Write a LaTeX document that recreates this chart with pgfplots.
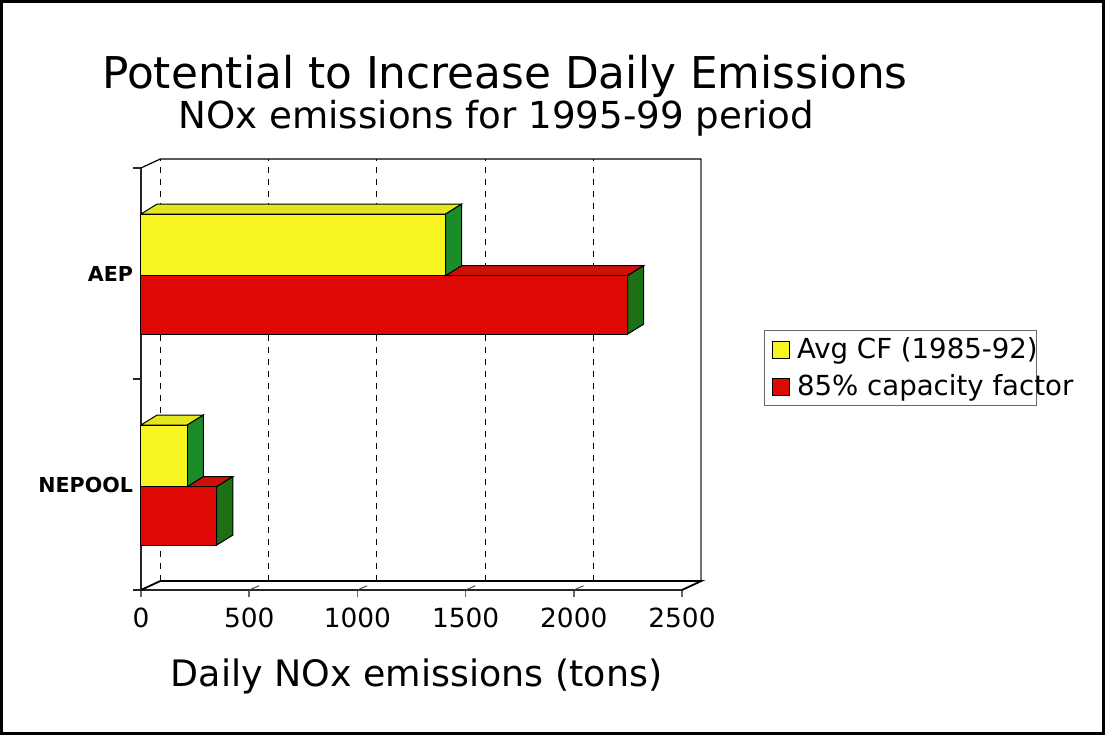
\documentclass[border=0pt]{standalone}
\usepackage{pgfplots}
\pgfplotsset{compat=1.18}
\usepackage{fontspec}
\setmainfont{DejaVu Sans}
\definecolor{yfront}{RGB}{248,244,34}
\definecolor{ytop}{RGB}{228,230,30}
\definecolor{yside}{RGB}{28,140,42}
\definecolor{rfront}{RGB}{222,8,5}
\definecolor{rtop}{RGB}{206,16,10}
\definecolor{rside}{RGB}{30,112,20}
\begin{document}
\begin{tikzpicture}
\path[use as bounding box] (-70.5pt,-72.5pt) rectangle (482pt,295pt);
\draw[line width=1.5pt] (-69.75pt,-71.75pt) rectangle (481.25pt,294.25pt);
\begin{axis}[
 at={(0pt,0pt)}, anchor=south west,
 scale only axis, width=270.5pt, height=211pt,
 xmin=0, xmax=2500, ymin=-0.5, ymax=1.5,
 clip=false,
 axis x line*=bottom, axis y line*=left,
 x axis line style={line width=1.2pt, black!85},
 y axis line style={line width=1pt, black!85},
 xtick={0,500,1000,1500,2000,2500},
 ytick={0,1}, yticklabels={NEPOOL,AEP},
 minor ytick={-0.5,0.5,1.5},
 tick align=outside,
 major tick length=3.5pt, minor tick length=4pt,
 major y tick style={draw=none},
 minor y tick style={black!85, line width=0.8pt},
 major x tick style={black!60, line width=0.8pt},
 /pgf/number format/assume math mode=true,
 /pgf/number format/1000 sep={},
 x tick label style={font=\fontsize{13.2}{15}\selectfont, yshift=-2pt},
 y tick label style={font=\fontsize{10.3}{12}\selectfont\bfseries, xshift=3pt},
 legend image code/.code={\path[draw=none,fill=none] (0pt,0pt) rectangle (10.5pt,0.1pt); \draw[#1,draw=black,line width=0.5pt] (0pt,-4.25pt) rectangle (8.5pt,4.25pt);},
 legend style={at={(rel axis cs:1.1516,0.616)}, anchor=north west,
   draw=black!60, line width=0.6pt, font=\fontsize{13.8}{16}\selectfont,
   inner xsep=3.5pt, inner ysep=1.5pt, row sep=2.5pt},
 legend cell align=left,
]
\addlegendimage{fill=yfront}
\addlegendentry{\makebox[114pt][l]{Avg CF (1985-92)}}
\addlegendimage{fill=rfront}
\addlegendentry{\makebox[114pt][l]{85\% capacity factor}}
% back wall
\addplot[forget plot, black, dash pattern=on 3pt off 3pt, line width=0.5pt] coordinates {(90,-0.457) (90,1.543)};
\addplot[forget plot, black, dash pattern=on 3pt off 3pt, line width=0.5pt] coordinates {(590,-0.457) (590,1.543)};
\addplot[forget plot, black, dash pattern=on 3pt off 3pt, line width=0.5pt] coordinates {(1090,-0.457) (1090,1.543)};
\addplot[forget plot, black, dash pattern=on 3pt off 3pt, line width=0.5pt] coordinates {(1590,-0.457) (1590,1.543)};
\addplot[forget plot, black, dash pattern=on 3pt off 3pt, line width=0.5pt] coordinates {(2090,-0.457) (2090,1.543)};
\addplot[forget plot, black!55, line width=1pt] coordinates {(2590,-0.457) (2590,1.543)};
\addplot[forget plot, black, line width=0.6pt] coordinates {(0,1.5) (90,1.543) (2590,1.543)};
\addplot[forget plot, black, line width=0.9pt] coordinates {(0,-0.5) (90,-0.457) (2590,-0.457) (2500,-0.5)};
% floor tick stubs
\addplot[forget plot, black!70, line width=0.5pt] coordinates {(500,-0.5) (545,-0.48)};
\addplot[forget plot, black!70, line width=0.5pt] coordinates {(1000,-0.5) (1045,-0.48)};
\addplot[forget plot, black!70, line width=0.5pt] coordinates {(1500,-0.5) (1545,-0.48)};
\addplot[forget plot, black!70, line width=0.5pt] coordinates {(2000,-0.5) (2045,-0.48)};
% 85% capacity factor: AEP 2249, NEPOOL 350 (top and side faces)
\addplot[forget plot, draw=black, fill=rtop, line width=0.5pt] coordinates {(0,-0.01) (350,-0.01) (424,0.037) (74,0.037) (0,-0.01)};
\addplot[forget plot, draw=black, fill=rside, line width=0.5pt] coordinates {(350,-0.287) (424,-0.24) (424,0.037) (350,-0.01) (350,-0.287)};
\addplot[forget plot, draw=black, fill=rtop, line width=0.5pt] coordinates {(0,0.99) (2249,0.99) (2323,1.037) (74,1.037) (0,0.99)};
\addplot[forget plot, draw=black, fill=rside, line width=0.5pt] coordinates {(2249,0.713) (2323,0.76) (2323,1.037) (2249,0.99) (2249,0.713)};
\addplot[forget plot, xbar, bar width=0.277, bar shift=-0.1485, fill=rfront, draw=black, line width=0.5pt] coordinates {(2249,1) (350,0)};
% Avg CF: AEP 1408, NEPOOL 214
\addplot[forget plot, draw=black, fill=ytop, line width=0.5pt] coordinates {(0,0.282) (214,0.282) (288,0.329) (74,0.329) (0,0.282)};
\addplot[forget plot, draw=black, fill=yside, line width=0.5pt] coordinates {(214,-0.01) (288,0.037) (288,0.329) (214,0.282) (214,-0.01)};
\addplot[forget plot, draw=black, fill=ytop, line width=0.5pt] coordinates {(0,1.282) (1408,1.282) (1482,1.329) (74,1.329) (0,1.282)};
\addplot[forget plot, draw=black, fill=yside, line width=0.5pt] coordinates {(1408,0.99) (1482,1.037) (1482,1.329) (1408,1.282) (1408,0.99)};
\addplot[forget plot, xbar, bar width=0.292, bar shift=0.136, fill=yfront, draw=black, line width=0.5pt] coordinates {(1408,1) (214,0)};
\end{axis}
\node[anchor=base, font=\fontsize{21.9}{24}\selectfont] at (182pt,251pt) {Potential to Increase Daily Emissions};
\node[anchor=base, font=\fontsize{18.6}{22}\selectfont] at (177.75pt,230.5pt) {NOx emissions for 1995-99 period};
\node[anchor=base, font=\fontsize{18.2}{22}\selectfont] at (137.75pt,-48pt) {Daily NOx emissions (tons)};
\end{tikzpicture}
\end{document}
